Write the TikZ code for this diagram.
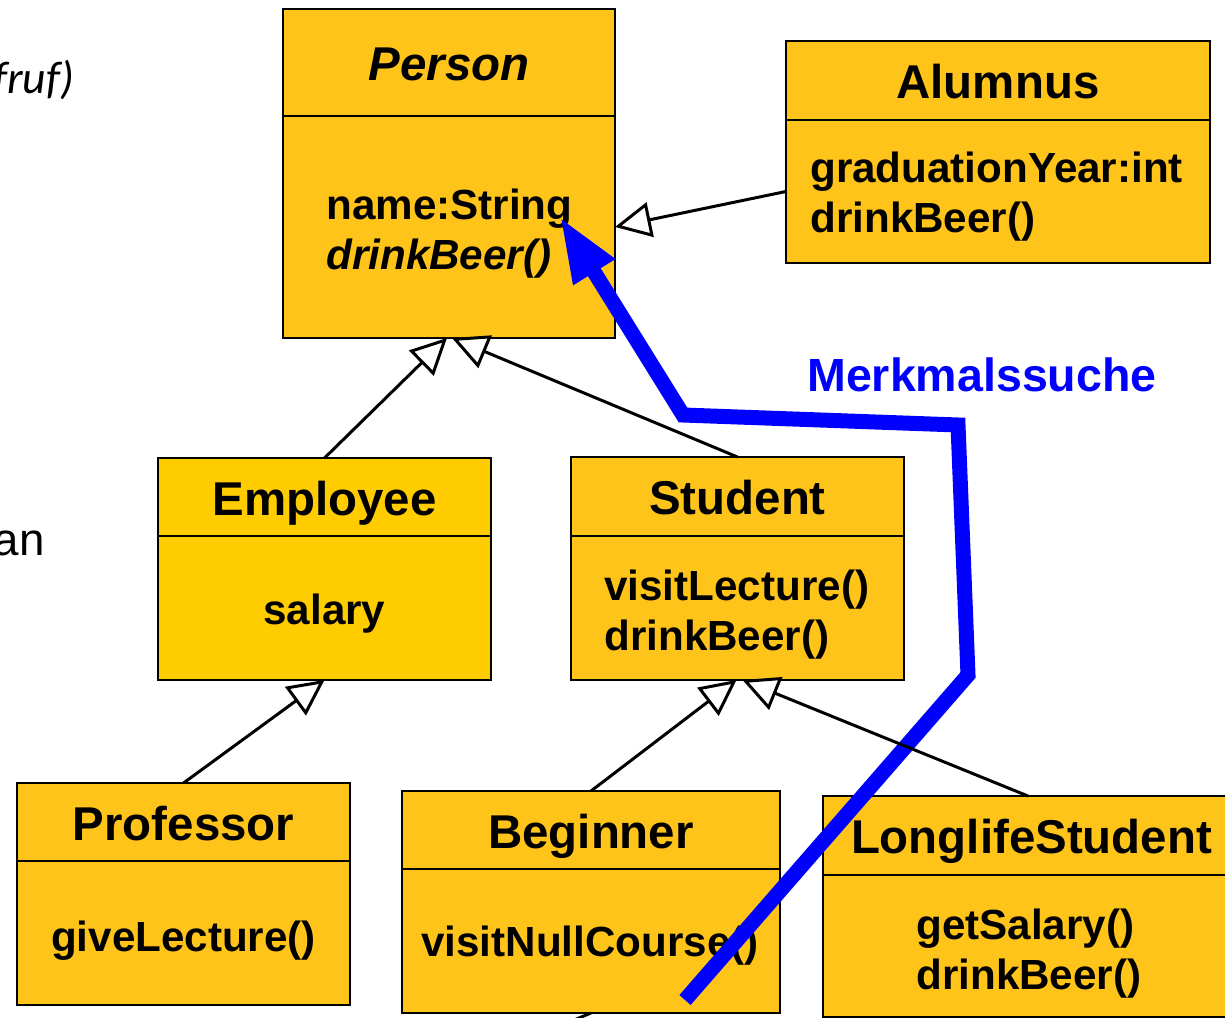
\documentclass[tikz,border=0pt]{standalone}
\usepackage{fontspec}
\setmainfont{Liberation Sans}
\newfontfamily\carlito{Carlito}
\usetikzlibrary{positioning, calc, arrows.meta}

\definecolor{umlgelb}{RGB}{255,196,26}
\definecolor{umlgelbhell}{RGB}{255,204,0}
\definecolor{suchblau}{RGB}{0,0,255}

\begin{document}
\begin{tikzpicture}[x=0.02cm, y=-0.02cm,
    kopf/.style={draw, fill=umlgelb, line width=1.1pt, inner sep=0pt, outer sep=0pt, text height=26pt, text depth=5.4pt, font=\fontsize{27}{32}\selectfont\bfseries},
    rumpf/.style={draw, fill=umlgelb, line width=1.1pt, inner sep=0pt, outer sep=0pt},
    eintrag/.style={inner sep=0pt, align=left, font=\fontsize{24}{28.5}\selectfont\bfseries},
    erbt/.style={-{Triangle[fill=white, length=0.72cm, width=0.7cm]}, line width=1.7pt}]
    \clip (0,0) rectangle (1225,1018);
    \node[font=\carlito\itshape\fontsize{26}{31}\selectfont, anchor=east, inner sep=0pt] (fragoben) at (75,80) {fruf)};
    \node[font=\fontsize{26}{31}\selectfont, anchor=east, inner sep=0pt] (fragmitte) at (45,543) {an};

    \node[kopf, minimum width=6.64cm, minimum height=2.14cm] (personkopf) at (449,62.5) {\itshape Person};
    \node[rumpf, minimum width=6.64cm, minimum height=4.44cm, below=0pt of personkopf] (personrumpf) {};
    \node[eintrag, anchor=west] (personattr) at (326,234) {name:String\\{\itshape drinkBeer()}};

    \node[kopf, minimum width=8.48cm, minimum height=1.58cm] (alumnuskopf) at (998,80.5) {Alumnus};
    \node[rumpf, minimum width=8.48cm, minimum height=2.86cm, below=0pt of alumnuskopf] (alumnusrumpf) {};
    \node[eintrag, anchor=west] (alumnusattr) at (810,196.5) {graduationYear:int\\drinkBeer()};

    \node[kopf, fill=umlgelbhell, minimum width=6.66cm, minimum height=1.56cm] (employeekopf) at (324.5,497) {Employee};
    \node[rumpf, fill=umlgelbhell, minimum width=6.66cm, minimum height=2.88cm, below=0pt of employeekopf] (employeerumpf) {};
    \node[eintrag] (employeeattr) at (324.5,614) {salary};

    \node[kopf, minimum width=6.66cm, minimum height=1.58cm] (studentkopf) at (737.5,496.5) {Student};
    \node[rumpf, minimum width=6.66cm, minimum height=2.88cm, below=0pt of studentkopf] (studentrumpf) {};
    \node[eintrag, anchor=west] (studentattr) at (604,614.5) {visitLecture()\\drinkBeer()};

    \node[kopf, minimum width=6.66cm, minimum height=1.56cm] (professorkopf) at (183.5,822) {Professor};
    \node[rumpf, minimum width=6.66cm, minimum height=2.88cm, below=0pt of professorkopf] (professorrumpf) {};
    \node[eintrag] (professorattr) at (183.5,941) {giveLecture()};

    \node[kopf, minimum width=7.56cm, minimum height=1.56cm] (beginnerkopf) at (591,830) {Beginner};
    \node[rumpf, minimum width=7.56cm, minimum height=2.88cm, below=0pt of beginnerkopf] (beginnerrumpf) {};
    \node[eintrag] (beginnerattr) at (590,946) {visitNullCourse()};

    \node[kopf, minimum width=8.34cm, minimum height=1.58cm] (longlifekopf) at (1031.5,835.5) {LonglifeStudent};
    \node[rumpf, minimum width=8.34cm, minimum height=2.84cm, below=0pt of longlifekopf] (longliferumpf) {};
    \node[eintrag, anchor=west] (longlifeattr) at (916,954) {getSalary()\\drinkBeer()};

    \node[font=\fontsize{26.5}{31}\selectfont\bfseries, text=suchblau] (merkmal) at (982,375) {Merkmalssuche};

    \coordinate (suchstart) at (685,1000);
    \coordinate (suchziel) at (560,217);
    \draw[suchblau, line width=0.3cm, -{Triangle[length=1.3cm, width=0.9cm]}] (suchstart) -- (968,675) -- (958,425) -- (683,415) -- (suchziel);

    \draw[erbt] (alumnusrumpf.west) -- (personrumpf.east);
    \draw[erbt] (employeekopf.north) -- ([xshift=-0.04cm]personrumpf.south);
    \draw[erbt] (studentkopf.north) -- ([xshift=0.06cm]personrumpf.south);
    \draw[erbt] (professorkopf.north) -- (employeerumpf.south);
    \draw[erbt] (beginnerkopf.north) -- ([xshift=-0.02cm]studentrumpf.south);
    \draw[erbt] ([xshift=-0.07cm]longlifekopf.north) -- ([xshift=0.1cm]studentrumpf.south);
    \draw[line width=1.7pt] (beginnerrumpf.south) -- ++(-24,10);
\end{tikzpicture}
\end{document}
